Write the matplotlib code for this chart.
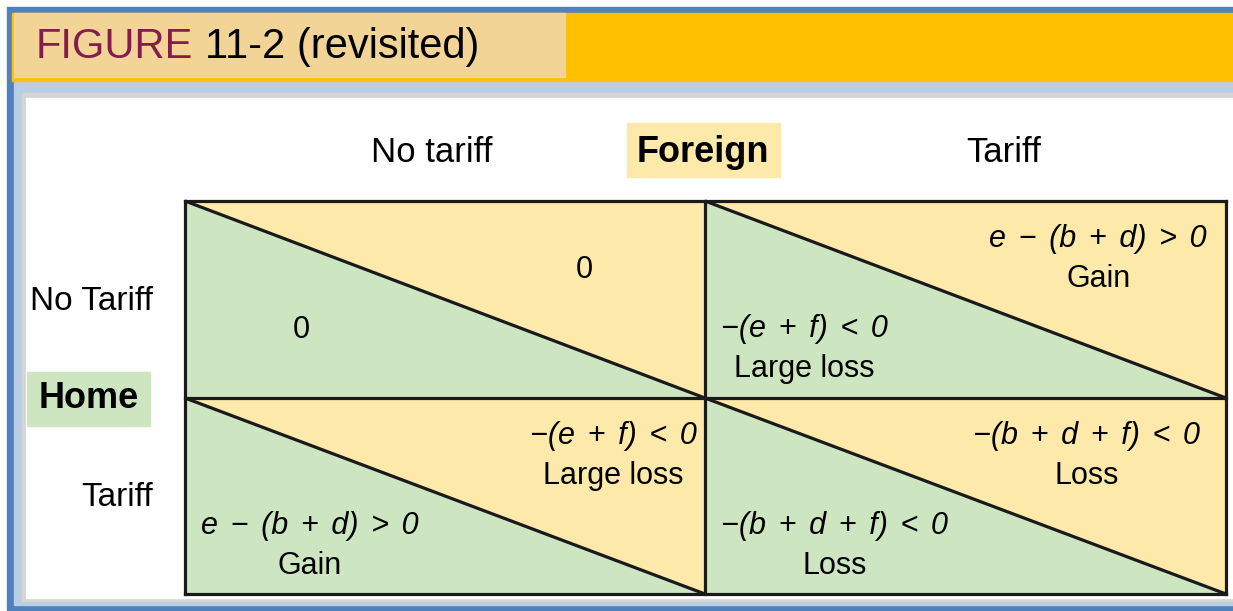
import matplotlib.pyplot as plt
from matplotlib.patches import Rectangle, Polygon

# -----------------------------
# Data
# -----------------------------
title_prefix = "FIGURE"
title_rest = "11-2 (revisited)"

col_player = "Foreign"
row_player = "Home"
col_labels = ["No tariff", "Tariff"]
row_labels = ["No Tariff", "Tariff"]

# payoffs per cell [row][col]: Foreign in upper-right triangle, Home in lower-left
foreign_payoff = [["0", "e \u2212 (b + d) > 0"],
                  ["\u2212(e + f) < 0", "\u2212(b + d + f) < 0"]]
foreign_verdict = [["", "Gain"],
                   ["Large loss", "Loss"]]
home_payoff = [["0", "\u2212(e + f) < 0"],
               ["e \u2212 (b + d) > 0", "\u2212(b + d + f) < 0"]]
home_verdict = [["", "Large loss"],
                ["Gain", "Loss"]]

# -----------------------------
# Layout (pixels)
# -----------------------------
W, H = 1233, 611
grid_x = [185, 705, 1226]
grid_y = [201, 398, 594]
# gap between Foreign formula and the right edge of its cell
foreign_gap = [[0, 19], [8, 26]]

GREEN = "#cde5c1"
YELLOW = "#fde9a9"
FONT = ["Liberation Sans", "DejaVu Sans"]


def spaced(s):
    # the book typesets the formulas with wide spaces
    return s.replace(" ", "\u2004\u200a")


fig = plt.figure(figsize=(W / 100, H / 100), dpi=100)
ax = fig.add_axes([0, 0, 1, 1])
ax.set_xlim(0, W)
ax.set_ylim(H, 0)
ax.axis("off")

# -----------------------------
# Frame and header
# -----------------------------
ax.add_patch(Rectangle((7, 7), W, H, color="#4f81bd", zorder=0))
ax.add_patch(Rectangle((14, 81), W, 524, color="#b9cde5", zorder=0))
ax.add_patch(Rectangle((22, 93), W, 508, color="#d4d4d4", zorder=0))
ax.add_patch(Rectangle((26, 98), W, 500, color="white", zorder=0))
ax.add_patch(Rectangle((12, 13), W, 68, color="#ffc000", zorder=1))
ax.add_patch(Rectangle((14, 13), 551, 64, color="#f3d497", zorder=1))

t1 = ax.text(36, 58, title_prefix, fontsize=30, color="#861c4e",
             family=FONT, va="baseline", ha="left", zorder=2)
ax.annotate(title_rest, xy=(1, 0), xycoords=t1, xytext=(8.5, 0),
            textcoords="offset points", fontsize=30, color="black",
            family=FONT, va="bottom", ha="left", zorder=2)

# -----------------------------
# Player labels
# -----------------------------
ax.add_patch(Rectangle((627, 123), 153, 54, color=YELLOW, zorder=1))
ax.text(703, 152, col_player, fontsize=26, fontweight="bold", family=FONT,
        ha="center", va="center", zorder=2)
ax.add_patch(Rectangle((27, 372), 123, 54, color=GREEN, zorder=1))
ax.text(89, 399, row_player, fontsize=26, fontweight="bold", family=FONT,
        ha="center", va="center", zorder=2)

col_centers = [432, 1004]
for label, cx in zip(col_labels, col_centers):
    ax.text(cx, 153, label, fontsize=25, family=FONT,
            ha="center", va="center")

row_centers = [302, 498]
for label, cy in zip(row_labels, row_centers):
    ax.text(153, cy, label, fontsize=24, family=FONT,
            ha="right", va="center")

# -----------------------------
# Payoff cells
# -----------------------------
for i in range(2):
    for j in range(2):
        x0, x1 = grid_x[j], grid_x[j + 1]
        y0, y1 = grid_y[i], grid_y[i + 1]
        ax.add_patch(Polygon([(x0, y0), (x1, y0), (x1, y1)],
                             closed=True, color=YELLOW, zorder=1))
        ax.add_patch(Polygon([(x0, y0), (x0, y1), (x1, y1)],
                             closed=True, color=GREEN, zorder=1))
        ax.plot([x0, x1], [y0, y1], color="#1a1a1a", lw=2.3,
                solid_capstyle="butt", zorder=3)

        if foreign_verdict[i][j]:
            eq = ax.text(x1 - foreign_gap[i][j], y0 + 38,
                         spaced(foreign_payoff[i][j]),
                         fontsize=22, style="italic", family=FONT,
                         ha="right", va="center", zorder=2)
            ax.annotate(foreign_verdict[i][j], xy=(0.5, 0), xycoords=eq,
                        xytext=(0, -7), textcoords="offset points",
                        fontsize=22, family=FONT, ha="center", va="top",
                        zorder=2)
        else:
            ax.text(x0 + 399, y0 + 69, foreign_payoff[i][j], fontsize=22,
                    family=FONT, ha="center", va="center", zorder=2)

        if home_verdict[i][j]:
            eq = ax.text(x0 + 16, y0 + 128, spaced(home_payoff[i][j]),
                         fontsize=22, style="italic", family=FONT,
                         ha="left", va="center", zorder=2)
            ax.annotate(home_verdict[i][j], xy=(0.5, 0), xycoords=eq,
                        xytext=(0, -7), textcoords="offset points",
                        fontsize=22, family=FONT, ha="center", va="top",
                        zorder=2)
        else:
            ax.text(x0 + 116, y0 + 129, home_payoff[i][j], fontsize=22,
                    family=FONT, ha="center", va="center", zorder=2)

# grid lines
for x in grid_x:
    ax.plot([x, x], [grid_y[0], grid_y[-1]], color="#1a1a1a", lw=2.3,
            solid_capstyle="projecting", zorder=4)
for y in grid_y:
    ax.plot([grid_x[0], grid_x[-1]], [y, y], color="#1a1a1a", lw=2.3,
            solid_capstyle="projecting", zorder=4)

fig.savefig("out.png", dpi=100)
